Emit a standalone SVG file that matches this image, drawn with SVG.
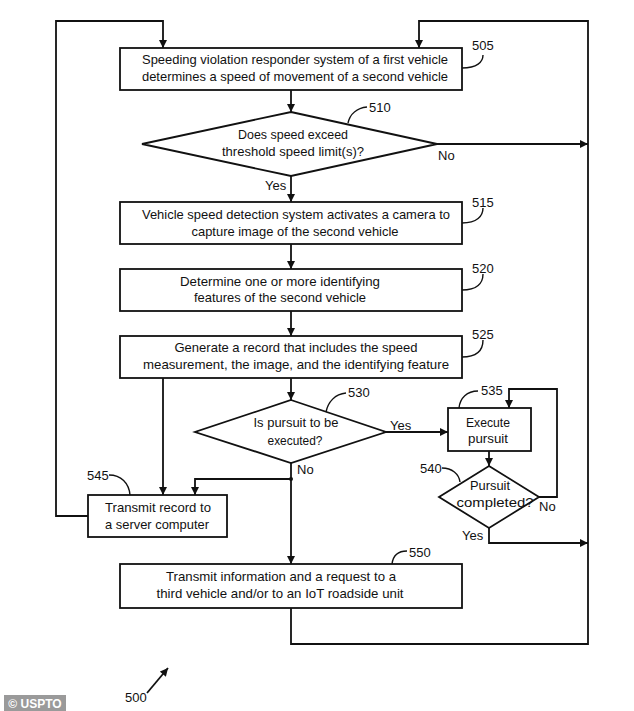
<svg xmlns="http://www.w3.org/2000/svg" width="634" height="711" viewBox="0 0 634 711">
<style>
.box{fill:#fff;stroke:#111;stroke-width:1.8}
.ln{fill:none;stroke:#111;stroke-width:1.8}
.ld{fill:none;stroke:#111;stroke-width:1.4}
.t{font-family:"Liberation Sans",Arial,sans-serif;font-size:13px;fill:#111;text-anchor:middle}
.lb{font-family:"Liberation Sans",Arial,sans-serif;font-size:13px;fill:#111}
</style>
<defs>
<marker id="ah" viewBox="0 0 10 10" refX="10" refY="5" markerWidth="9" markerHeight="8" markerUnits="userSpaceOnUse" orient="auto">
<path d="M0,0 L10,5 L0,10 z" fill="#111"/>
</marker>
</defs>
<rect width="634" height="711" fill="#fff"/>
<g id="connectors">
<path class="ln" d="M88,516 H56 V21 H163 V48" marker-end="url(#ah)"/>
<path class="ln" d="M291,608 V644 H588 V21 H419 V48" marker-end="url(#ah)"/>
<path class="ln" d="M291,90 V112" marker-end="url(#ah)"/>
<path class="ln" d="M437,144 H588" marker-end="url(#ah)"/>
<path class="ln" d="M291,176 V202" marker-end="url(#ah)"/>
<path class="ln" d="M291,244 V269" marker-end="url(#ah)"/>
<path class="ln" d="M291,311 V336" marker-end="url(#ah)"/>
<path class="ln" d="M291,378 V400" marker-end="url(#ah)"/>
<path class="ln" d="M163,378 V495" marker-end="url(#ah)"/>
<path class="ln" d="M386,432 H448" marker-end="url(#ah)"/>
<path class="ln" d="M291,463 V564" marker-end="url(#ah)"/>
<path class="ln" d="M291,479 H195 V495" marker-end="url(#ah)"/>
<circle cx="291" cy="479" r="2" fill="#111"/>
<path class="ln" d="M489,451 V466" marker-end="url(#ah)"/>
<path class="ln" d="M539,497 H557 V389 H509 V408" marker-end="url(#ah)"/>
<path class="ln" d="M489,528 V543 H588" marker-end="url(#ah)"/>
<path class="ln" d="M147,693 L168,668" marker-end="url(#ah)"/>
<text class="lb" x="438" y="160">No</text>
<text class="lb" x="265" y="190">Yes</text>
<text class="lb" x="390" y="430">Yes</text>
<text class="lb" x="297" y="474">No</text>
<text class="lb" x="539" y="511">No</text>
<text class="lb" x="462" y="540">Yes</text>
</g>
<g id="n505">
<rect class="box" x="120" y="48" width="342" height="42"/>
<text class="t" x="295" y="64" textLength="306" lengthAdjust="spacingAndGlyphs">Speeding violation responder system of a first vehicle</text>
<text class="t" x="295" y="81" textLength="306" lengthAdjust="spacingAndGlyphs">determines a speed of movement of a second vehicle</text>
<path class="ld" d="M462,68 C477,68 483,62 483,55"/>
<text class="lb" x="472" y="50">505</text>
</g>
<g id="n510">
<polygon class="box" points="291,112 437,144 291,176 142,144"/>
<text class="t" x="293" y="139" textLength="110" lengthAdjust="spacingAndGlyphs">Does speed exceed</text>
<text class="t" x="293" y="156" textLength="142" lengthAdjust="spacingAndGlyphs">threshold speed limit(s)?</text>
<path class="ld" d="M348,123 C350,114 357,108 367,107"/>
<text class="lb" x="369" y="112">510</text>
</g>
<g id="n515">
<rect class="box" x="120" y="202" width="342" height="42"/>
<text class="t" x="296" y="219" textLength="308" lengthAdjust="spacingAndGlyphs">Vehicle speed detection system activates a camera to</text>
<text class="t" x="295" y="236" textLength="207" lengthAdjust="spacingAndGlyphs">capture image of the second vehicle</text>
<path class="ld" d="M462,223 C477,223 483,216 483,208"/>
<text class="lb" x="472" y="207">515</text>
</g>
<g id="n520">
<rect class="box" x="120" y="269" width="342" height="42"/>
<text class="t" x="280" y="286" textLength="200" lengthAdjust="spacingAndGlyphs">Determine one or more identifying</text>
<text class="t" x="280" y="302" textLength="172" lengthAdjust="spacingAndGlyphs">features of the second vehicle</text>
<path class="ld" d="M462,290 C477,290 483,283 483,274"/>
<text class="lb" x="472" y="273">520</text>
</g>
<g id="n525">
<rect class="box" x="120" y="336" width="342" height="42"/>
<text class="t" x="296" y="352" textLength="243" lengthAdjust="spacingAndGlyphs">Generate a record that includes the speed</text>
<text class="t" x="296" y="369" textLength="306" lengthAdjust="spacingAndGlyphs">measurement, the image, and the identifying feature</text>
<path class="ld" d="M462,357 C477,357 483,350 483,340"/>
<text class="lb" x="472" y="339">525</text>
</g>
<g id="n530">
<polygon class="box" points="291,400 386,432 291,463 195,432"/>
<text class="t" x="296" y="427" textLength="85" lengthAdjust="spacingAndGlyphs">Is pursuit to be</text>
<text class="t" x="295" y="445" textLength="55" lengthAdjust="spacingAndGlyphs">executed?</text>
<path class="ld" d="M326,412 C328,402 335,394 346,393"/>
<text class="lb" x="348" y="397">530</text>
</g>
<g id="n535">
<rect class="box" x="448" y="408" width="83" height="43"/>
<text class="t" x="488" y="427" textLength="44" lengthAdjust="spacingAndGlyphs">Execute</text>
<text class="t" x="488" y="443" textLength="40" lengthAdjust="spacingAndGlyphs">pursuit</text>
<path class="ld" d="M459,408 C460,398 467,391 478,391"/>
<text class="lb" x="481" y="395">535</text>
</g>
<g id="n540">
<polygon class="box" points="489,466 539,497 489,528 439,497"/>
<text class="t" x="490" y="490" textLength="40" lengthAdjust="spacingAndGlyphs">Pursuit</text>
<text class="t" x="495" y="507" textLength="77" lengthAdjust="spacingAndGlyphs">completed?</text>
<path class="ld" d="M442,468 C452,468 459,474 460,482"/>
<text class="lb" x="420" y="473">540</text>
</g>
<g id="n545">
<rect class="box" x="88" y="495" width="139" height="42"/>
<text class="t" x="158" y="512" textLength="106" lengthAdjust="spacingAndGlyphs">Transmit record to</text>
<text class="t" x="157" y="529" textLength="104" lengthAdjust="spacingAndGlyphs">a server computer</text>
<path class="ld" d="M109,475 C121,475 129,483 130,495"/>
<text class="lb" x="87" y="480">545</text>
</g>
<g id="n550">
<rect class="box" x="120" y="564" width="342" height="44"/>
<text class="t" x="281" y="581" textLength="230" lengthAdjust="spacingAndGlyphs">Transmit information and a request to a</text>
<text class="t" x="280" y="598" textLength="247" lengthAdjust="spacingAndGlyphs">third vehicle and/or to an IoT roadside unit</text>
<path class="ld" d="M392,564 C393,556 398,551 407,551"/>
<text class="lb" x="409" y="557">550</text>
</g>
<g id="ref500">
<text class="lb" x="125" y="702">500</text>
</g>
<g id="badge">
<rect x="4" y="695" width="62" height="16" fill="#9a9a9a"/>
<text x="35" y="708" font-family="'Liberation Sans',Arial,sans-serif" font-size="12" font-weight="bold" fill="#fff" text-anchor="middle">© USPTO</text>
</g>
</svg>
